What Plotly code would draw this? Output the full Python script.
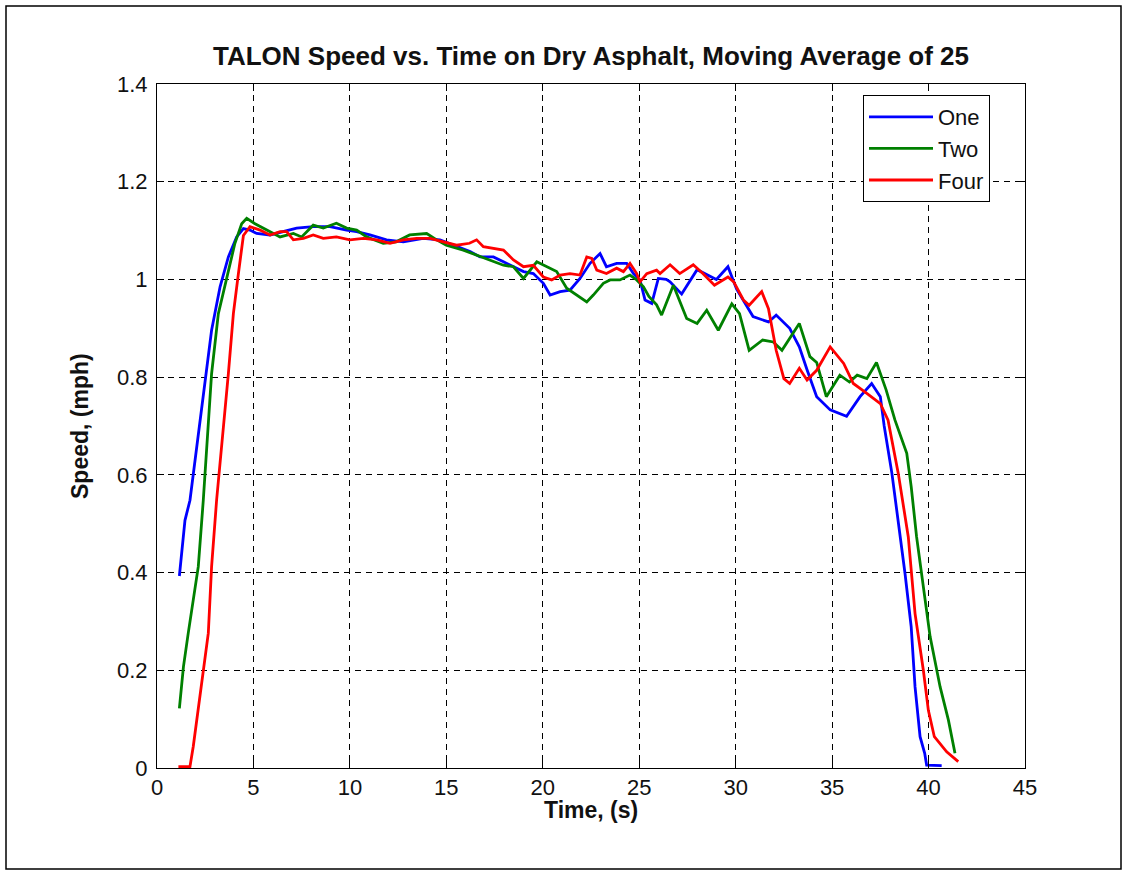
import plotly.graph_objects as go

# ---- data ----
t_one = [1.16, 1.28, 1.45, 1.71, 2.57, 2.83, 3.27, 3.7, 4.13, 4.48, 4.82, 5.17, 5.86, 6.55, 7.24, 8.1, 8.97,
         9.83, 10.35, 11.04, 11.9, 12.77, 13.8, 14.67, 15.53, 16.23, 16.75, 17.44, 17.96, 18.48, 19.0, 19.51,
         20.03, 20.38, 20.9, 21.41, 21.93, 22.45, 22.97, 23.3, 23.83, 24.35, 24.7, 25.04, 25.3, 25.65, 25.99,
         26.4, 26.6, 27.2, 28.0, 29.0, 29.6, 30.05, 30.9, 31.7, 32.1, 32.8, 33.3, 33.7, 34.2, 34.9, 35.75,
         36.45, 37.05, 37.5, 37.7, 38.1, 38.43, 38.78, 39.1, 39.3, 39.56, 39.8, 39.9, 40.68]
v_one = [0.393, 0.446, 0.507, 0.548, 0.807, 0.896, 0.985, 1.046, 1.087, 1.104, 1.101, 1.094, 1.091, 1.098, 1.105,
         1.108, 1.108, 1.101, 1.098, 1.091, 1.081, 1.077, 1.084, 1.081, 1.067, 1.057, 1.046, 1.046, 1.036, 1.026,
         1.016, 1.012, 0.992, 0.968, 0.975, 0.978, 1.002, 1.033, 1.053, 1.026, 1.033, 1.033, 1.012, 0.999, 0.958,
         0.951, 1.002, 1.0, 0.995, 0.97, 1.02, 1.0, 1.026, 0.98, 0.924, 0.913, 0.927, 0.9, 0.862, 0.815, 0.76,
         0.733, 0.72, 0.76, 0.787, 0.76, 0.70, 0.603, 0.507, 0.398, 0.289, 0.166, 0.064, 0.03, 0.006, 0.005]

t_two = [1.16, 1.37, 1.62, 1.88, 2.14, 2.4, 2.83, 3.18, 3.61, 4.04, 4.39, 4.65, 5.08, 5.51, 6.38, 7.07, 7.5, 8.1,
         8.62, 9.3, 9.83, 10.35, 10.87, 11.73, 12.4, 13.1, 13.98, 14.5, 15.0, 15.88, 16.57, 17.26, 17.96, 18.48,
         19.0, 19.69, 20.2, 20.72, 21.24, 21.76, 22.28, 22.62, 23.14, 23.49, 24.0, 24.52, 24.87, 25.22, 25.5,
         25.9, 26.16, 26.77, 27.46, 28.0, 28.5, 29.1, 29.8, 30.2, 30.7, 31.4, 31.95, 32.4, 33.3, 33.85, 34.2,
         34.7, 35.4, 35.9, 36.3, 36.8, 37.3, 37.8, 38.26, 38.87, 39.1, 39.38, 39.73, 40.08, 40.6, 41.03, 41.37]
v_two = [0.122, 0.207, 0.276, 0.344, 0.412, 0.548, 0.807, 0.93, 0.999, 1.074, 1.114, 1.125, 1.114, 1.105, 1.087,
         1.094, 1.087, 1.111, 1.105, 1.115, 1.105, 1.101, 1.087, 1.074, 1.077, 1.091, 1.094, 1.081, 1.07, 1.06,
         1.05, 1.04, 1.029, 1.026, 1.002, 1.036, 1.026, 1.016, 0.982, 0.968, 0.954, 0.968, 0.992, 0.999, 0.999,
         1.009, 0.999, 0.985, 0.965, 0.948, 0.927, 0.988, 0.92, 0.91, 0.937, 0.896, 0.95, 0.93, 0.855, 0.876,
         0.872, 0.855, 0.91, 0.842, 0.83, 0.76, 0.804, 0.79, 0.804, 0.797, 0.83, 0.774, 0.712, 0.644, 0.576,
         0.473, 0.371, 0.269, 0.166, 0.098, 0.03]

t_four = [1.11, 1.71, 1.88, 2.14, 2.4, 2.66, 2.83, 3.09, 3.7, 3.96, 4.22, 4.48, 4.82, 5.34, 5.86, 6.38, 6.72,
          7.07, 7.59, 8.1, 8.62, 9.3, 10.0, 10.7, 11.4, 12.08, 12.77, 13.46, 14.15, 14.84, 15.53, 16.2, 16.57,
          16.92, 17.44, 17.96, 18.48, 19.0, 19.51, 20.03, 20.46, 20.9, 21.41, 21.93, 22.28, 22.54, 22.8, 23.3,
          23.83, 24.18, 24.52, 24.87, 25.04, 25.39, 25.9, 26.08, 26.6, 27.1, 27.8, 28.3, 28.9, 29.6, 29.9, 30.4,
          30.7, 31.35, 31.7, 32.1, 32.5, 32.8, 33.3, 33.7, 34.2, 34.9, 35.6, 36.1, 36.8, 37.5, 37.9, 38.43,
          38.95, 39.3, 39.73, 39.99, 40.3, 40.94, 41.54]
v_four = [0.003, 0.003, 0.044, 0.125, 0.2, 0.276, 0.412, 0.548, 0.807, 0.93, 1.012, 1.09, 1.108, 1.101, 1.091,
          1.098, 1.098, 1.081, 1.084, 1.091, 1.084, 1.087, 1.081, 1.084, 1.081, 1.074, 1.081, 1.084, 1.084,
          1.077, 1.07, 1.074, 1.081, 1.067, 1.063, 1.06, 1.04, 1.026, 1.029, 1.005, 0.999, 1.009, 1.012, 1.009,
          1.046, 1.043, 1.019, 1.012, 1.023, 1.016, 1.033, 1.012, 0.995, 1.012, 1.019, 1.012, 1.03, 1.012, 1.03,
          1.012, 0.988, 1.005, 0.995, 0.958, 0.947, 0.975, 0.94, 0.855, 0.797, 0.787, 0.818, 0.794, 0.814, 0.862,
          0.828, 0.787, 0.767, 0.746, 0.712, 0.603, 0.473, 0.316, 0.2, 0.118, 0.064, 0.033, 0.013]

series_names = ["One", "Two", "Four"]
series_colors = ["#0000FF", "#008000", "#FF0000"]
x_ticks = [0, 5, 10, 15, 20, 25, 30, 35, 40, 45]
y_ticks = [0, 0.2, 0.4, 0.6, 0.8, 1.0, 1.2, 1.4]
y_tick_text = ["0", "0.2", "0.4", "0.6", "0.8", "1", "1.2", "1.4"]

W, H = 1125, 871
L, R, T, B = 157, 1025, 84, 768  # plot area in pixels


def px_x(p):
    return (p - L) / (R - L)


def px_y(p):
    return (B - p) / (B - T)


FONT = "Liberation Sans, Arial, sans-serif"

fig = go.Figure()
for tt, vv, name, col in zip([t_one, t_two, t_four], [v_one, v_two, v_four], series_names, series_colors):
    fig.add_trace(go.Scatter(x=tt, y=vv, mode="lines", name=name,
                             line=dict(color=col, width=2.8)))

axis_common = dict(showline=True, linecolor="black", linewidth=1, mirror="ticks",
                   ticks="inside", ticklen=7, tickcolor="black", tickwidth=1,
                   showgrid=True, gridcolor="black", gridwidth=1, griddash="6px,5px",
                   zeroline=False, tickfont=dict(family=FONT, size=22, color="#111"))

fig.update_xaxes(range=[0, 45], tickvals=x_ticks, **axis_common)
fig.update_yaxes(range=[0, 1.4], tickvals=y_ticks, ticktext=y_tick_text, ticklabelstandoff=4, **axis_common)

fig.update_layout(
    width=W, height=H,
    margin=dict(l=L, r=W - R, t=T, b=H - B, pad=0),
    paper_bgcolor="white", plot_bgcolor="white",
    showlegend=True,
    legend=dict(x=px_x(863), y=px_y(95), xanchor="left", yanchor="top",
                bgcolor="white", bordercolor="black", borderwidth=1,
                font=dict(family=FONT, size=22, color="#111"),
                itemwidth=64, entrywidth=100, entrywidthmode="pixels", tracegroupgap=0),
    title=dict(text="<b>TALON Speed vs. Time on Dry Asphalt, Moving Average of 25</b>",
               x=px_x((L + R) / 2), xref="paper", xanchor="center",
               y=1 - 56 / H, yref="container", yanchor="middle",
               font=dict(family=FONT, size=26, color="#111")),
    annotations=[
        dict(text="<b>Time, (s)</b>", x=0.5, y=px_y(810), xref="paper", yref="paper",
             showarrow=False, xanchor="center", yanchor="middle",
             font=dict(family=FONT, size=23, color="#111")),
        dict(text="<b>Speed, (mph)</b>", x=px_x(80), y=0.5, xref="paper", yref="paper",
             showarrow=False, xanchor="center", yanchor="middle", textangle=-90,
             font=dict(family=FONT, size=23, color="#111")),
    ],
    shapes=[
        dict(type="rect", xref="paper", yref="paper",
             x0=px_x(6), x1=px_x(1121), y0=px_y(869), y1=px_y(6),
             line=dict(color="black", width=1.5), fillcolor="rgba(0,0,0,0)", layer="below"),
    ],
)

fig.write_html("out.html")
